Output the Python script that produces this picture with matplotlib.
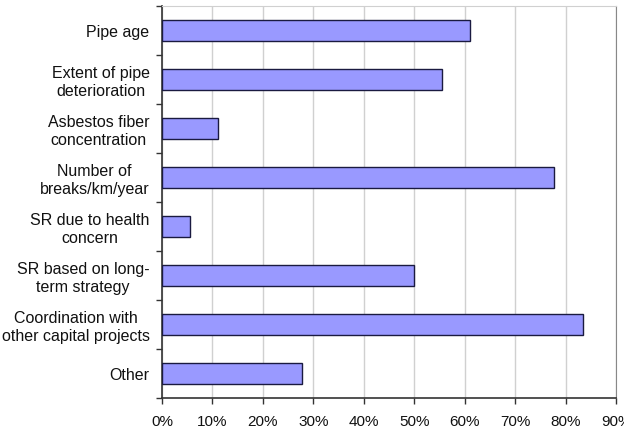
import matplotlib
matplotlib.use("Agg")
import matplotlib.pyplot as plt
import numpy as np

plt.rcParams['font.family'] = ['Liberation Sans', 'DejaVu Sans']

categories = ["Pipe age", "Extent of pipe\ndeterioration", "Asbestos fiber\nconcentration",
              "Number of\nbreaks/km/year", "SR due to health\nconcern", "SR based on long-\nterm strategy",
              "Coordination with\nother capital projects", "Other"]
values = [61.1, 55.5, 11.2, 77.8, 5.6, 50.0, 83.4, 27.8]
xticks = [0, 10, 20, 30, 40, 50, 60, 70, 80, 90]
xticklabels = [f"{t}%" for t in xticks]

fig = plt.figure(figsize=(6.24, 4.29), dpi=100)
ax = fig.add_axes([162/624, 1-398/429, (616-162)/624, (398-6)/429])

y = np.arange(len(categories))
ax.barh(y, values, height=0.41, color="#9999FF", edgecolor="#1a1a40", linewidth=1.0, zorder=3)
ax.set_ylim(len(categories)-0.5, -0.5)
ax.set_xlim(0, 90)
ax.set_xticks(xticks)
ax.set_xticklabels(xticklabels, fontsize=11, color="#111111")
ax.set_yticks(y)
ax.set_yticklabels(categories, fontsize=11.5, linespacing=1.25, color="#111111")
ax.set_yticks(np.arange(-0.5, len(categories)), minor=True)
ax.tick_params(axis='y', which='minor', length=4, color='#333333', width=1)
ax.tick_params(axis='x', length=4, color='#333333', width=1, pad=8)
ax.xaxis.grid(True, color="#d0d0d0", linewidth=1, zorder=0)
for s in ['left', 'bottom']:
    ax.spines[s].set_color('#333333')
    ax.spines[s].set_linewidth(1.2)
ax.spines['right'].set_color('#888888')
ax.spines['top'].set_color('#d0d0d0')
for lbl in ax.get_yticklabels():
    lbl.set_horizontalalignment('right')
    lbl.set_multialignment('center')
ax.tick_params(axis='y', which='major', length=0, pad=9)
fig.savefig("out.png", dpi=100)
